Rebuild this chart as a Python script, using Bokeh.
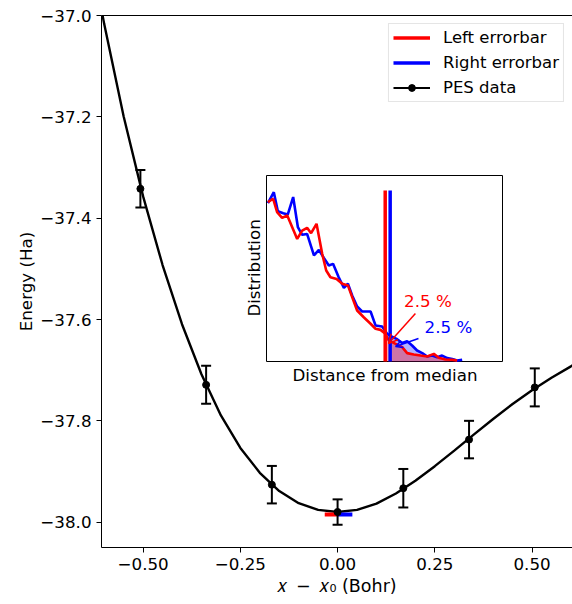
import math
from bokeh.plotting import figure
from bokeh.models import (ColumnDataSource, Range1d, FixedTicker, CustomJSTickFormatter,
                          Legend, LegendItem, Arrow, OpenHead, Label, LinearAxis)
from bokeh.embed import file_html
from bokeh.resources import INLINE

# ---------------- data ----------------
# PES data points with error bars
pes_x = [-0.507, -0.338, -0.169, 0.0, 0.169, 0.338, 0.507]
pes_e = [-37.342, -37.729, -37.926, -37.980, -37.933, -37.837, -37.734]
pes_err = [0.037, 0.0375, 0.037, 0.025, 0.038, 0.037, 0.0375]

# fitted curve
fit_x = [-0.605, -0.60, -0.55, -0.50, -0.45, -0.40, -0.35, -0.30, -0.25, -0.20, -0.15,
         -0.10, -0.05, 0.0, 0.05, 0.10, 0.15, 0.20, 0.25, 0.30, 0.35, 0.40, 0.45,
         0.50, 0.55, 0.60, 0.605]
fit_e = [-36.997, -37.017, -37.1995, -37.357, -37.4925, -37.6093, -37.708, -37.7893,
         -37.8535, -37.9025, -37.9385, -37.9625, -37.9758, -37.980, -37.9758, -37.9633,
         -37.9435, -37.9183, -37.8895, -37.8588, -37.8273, -37.7963, -37.7668, -37.7395,
         -37.7148, -37.6925, -37.690]

# minimum position and its left / right error bars
min_x = 0.0
min_e = -37.985
left_err = 0.033
right_err = 0.038

# inset: distributions of the distance from the median (normalised units)
red_u = [0.006, 0.028, 0.045, 0.066, 0.088, 0.109, 0.130, 0.151, 0.172, 0.189, 0.212,
         0.236, 0.253, 0.271, 0.297, 0.321, 0.345, 0.363, 0.384, 0.412, 0.441, 0.462,
         0.483, 0.504, 0.518, 0.532, 0.554, 0.575, 0.596, 0.624, 0.653, 0.681, 0.709,
         0.730, 0.758, 0.787, 0.808]
red_v = [0.857, 0.875, 0.803, 0.772, 0.785, 0.722, 0.659, 0.704, 0.719, 0.690, 0.740,
         0.579, 0.489, 0.453, 0.444, 0.418, 0.409, 0.346, 0.274, 0.238, 0.203, 0.176,
         0.170, 0.149, 0.113, 0.104, 0.091, 0.077, 0.045, 0.038, 0.032, 0.027, 0.041,
         0.020, 0.011, 0.009, 0.005]
blue_u = [0.006, 0.031, 0.048, 0.071, 0.090, 0.113, 0.133, 0.151, 0.172, 0.201, 0.222,
          0.243, 0.264, 0.282, 0.306, 0.328, 0.345, 0.363, 0.384, 0.405, 0.441, 0.462,
          0.490, 0.511, 0.532, 0.551, 0.575, 0.596, 0.617, 0.638, 0.660, 0.681, 0.702,
          0.723, 0.744, 0.766, 0.787, 0.808, 0.829]
blue_v = [0.851, 0.910, 0.808, 0.797, 0.790, 0.884, 0.722, 0.681, 0.686, 0.570, 0.600,
          0.557, 0.516, 0.525, 0.453, 0.396, 0.418, 0.355, 0.296, 0.269, 0.269, 0.194,
          0.188, 0.149, 0.134, 0.122, 0.099, 0.109, 0.086, 0.059, 0.045, 0.027, 0.032,
          0.023, 0.032, 0.018, 0.013, 0.005, 0.009]
red_cut = 0.503     # 2.5 % quantile, left errorbar
blue_cut = 0.524    # 2.5 % quantile, right errorbar
cut_height = 0.919
pct_label = "2.5 %"

x_ticks = [-0.5, -0.25, 0.0, 0.25, 0.5]
y_ticks = [-38.0, -37.8, -37.6, -37.4, -37.2, -37.0]

# ---------------- layout constants ----------------
FONT = "DejaVu Sans"
W, H = 572, 604
BL, BR, BT = 101, 0, 15
FW, FH = W - BL - BR, 532
BB = H - BT - FH
XR = (-0.607, 0.604)
YR = (-38.050, -37.0)

p = figure(width=W, height=H, output_backend="svg", toolbar_location=None,
           x_range=Range1d(*XR), y_range=Range1d(*YR),
           min_border_left=BL, min_border_right=BR, min_border_top=BT, min_border_bottom=BB)
p.outline_line_color = None
p.xgrid.visible = False
p.ygrid.visible = False
p.background_fill_color = "white"
p.border_fill_color = "white"

xax = p.below[0]
yax = p.left[0]

# inset mapped into the frame through extra ranges (pixel box of the inset in page coords)
ins_l, ins_r, ins_t, ins_b = 266, 502, 175, 361
fx0, fy0 = BL, BT
fl = (ins_l - fx0) / FW
fr = (ins_r - fx0) / FW
span = 1.0 / (fr - fl)
ix0 = -fl * span
fb = (fy0 + FH - ins_b) / FH
ft = (fy0 + FH - ins_t) / FH
vspan = 1.0 / (ft - fb)
iy0 = -fb * vspan
p.extra_x_ranges = {"ix": Range1d(ix0, ix0 + span)}
p.extra_y_ranges = {"iy": Range1d(iy0, iy0 + vspan)}

# axes
top_axis = LinearAxis(ticker=FixedTicker(ticks=[]), axis_line_color="black", axis_line_width=1,
                      major_tick_out=0, major_tick_in=0, minor_tick_out=0, minor_tick_in=0,
                      major_label_standoff=0, major_label_text_font_size="0px")
p.add_layout(top_axis, "above")

xax.ticker = FixedTicker(ticks=x_ticks)
yax.ticker = FixedTicker(ticks=y_ticks)
xax.formatter = CustomJSTickFormatter(
    code="return (tick < -1e-9 ? '\\u2212' : '') + Math.abs(tick).toFixed(2);")
yax.formatter = CustomJSTickFormatter(
    code="return (tick < -1e-9 ? '\\u2212' : '') + Math.abs(tick).toFixed(1);")
for ax in (xax, yax):
    ax.axis_line_color = "black"
    ax.axis_line_width = 1
    ax.major_tick_line_color = "black"
    ax.major_tick_line_width = 1
    ax.major_tick_out = 5
    ax.major_tick_in = 0
    ax.minor_tick_out = 0
    ax.minor_tick_in = 0
    ax.major_label_standoff = 5
    ax.major_label_text_font = FONT
    ax.major_label_text_font_size = "16.7px"
    ax.major_label_text_color = "black"
    ax.axis_label_text_font = FONT
    ax.axis_label_text_font_size = "16.7px"
    ax.axis_label_text_font_style = "normal"
    ax.axis_label_text_color = "black"
xax.axis_label = "\U0001D465\u2002\u2212\u2002\U0001D465\u2080 (Bohr)"
xax.axis_label_text_font_size = "17.5px"
yax.axis_label = "Energy (Ha)"
xax.axis_label_standoff = 3
yax.axis_label_standoff = 1

# main curve
p.line(fit_x, fit_e, line_color="black", line_width=2.4)

# minimum left/right errorbars
p.line([min_x - left_err, min_x], [min_e, min_e], line_color="red", line_width=4)
p.line([min_x, min_x + right_err], [min_e, min_e], line_color="blue", line_width=4)

# PES data with error bars
src = ColumnDataSource(dict(x=pes_x, y=pes_e,
                            lo=[e - d for e, d in zip(pes_e, pes_err)],
                            hi=[e + d for e, d in zip(pes_e, pes_err)]))
err_r = p.segment(x0="x", y0="lo", x1="x", y1="hi", source=src, line_color="black", line_width=2)
p.scatter(x="x", y="lo", source=src, marker="dash", size=10, line_color="black", line_width=2)
p.scatter(x="x", y="hi", source=src, marker="dash", size=10, line_color="black", line_width=2)
pts_r = p.scatter(x="x", y="y", source=src, marker="circle", size=7,
                  fill_color="black", line_color="black")

# ---------------- inset ----------------
kw = dict(x_range_name="ix", y_range_name="iy")
p.quad(left=[0], right=[1], bottom=[0], top=[1], fill_color="white",
       line_color="black", line_width=1, **kw)

bu = [u for u in blue_u if u >= blue_cut]
bv = [v for u, v in zip(blue_u, blue_v) if u >= blue_cut]
ru = [u for u in red_u if u >= red_cut]
rv = [v for u, v in zip(red_u, red_v) if u >= red_cut]
p.varea(x=bu, y1=[0] * len(bu), y2=bv, fill_color="blue", fill_alpha=0.3, **kw)
p.varea(x=ru, y1=[0] * len(ru), y2=rv, fill_color="red", fill_alpha=0.35, **kw)

p.line(blue_u, blue_v, line_color="blue", line_width=2.6, **kw)
p.line(red_u, red_v, line_color="red", line_width=2.6, **kw)

red_vl = p.line([red_cut, red_cut], [0, cut_height], line_color="red", line_width=3.5, **kw)
blue_vl = p.line([blue_cut, blue_cut], [0, cut_height], line_color="blue", line_width=3.5, **kw)

p.add_layout(Arrow(end=OpenHead(size=9, line_color="red", line_width=1.5),
                   x_start=0.631, y_start=0.258, x_end=0.517, y_end=0.097,
                   line_color="red", line_width=1.5, **kw))
p.add_layout(Arrow(end=OpenHead(size=7, line_color="blue", line_width=1.5),
                   x_start=0.644, y_start=0.124, x_end=0.547, y_end=0.081,
                   line_color="blue", line_width=1.5, **kw))

lab_kw = dict(text_font=FONT, text_font_size="16.7px", text_align="center",
              text_baseline="middle", **kw)
p.add_layout(Label(x=0.684, y=0.325, text=pct_label, text_color="red", **lab_kw))
p.add_layout(Label(x=0.771, y=0.185, text=pct_label, text_color="blue", **lab_kw))
p.add_layout(Label(x=-0.055, y=0.503, text="Distribution", angle=math.pi / 2,
                   text_color="black", **lab_kw))
p.add_layout(Label(x=0.502, y=-0.070, text="Distance from median", text_color="black", **lab_kw))

# ---------------- legend ----------------
legend = Legend(items=[
    LegendItem(label="Left errorbar", renderers=[red_vl]),
    LegendItem(label="Right errorbar", renderers=[blue_vl]),
    LegendItem(label="PES data", renderers=[err_r, pts_r]),
], location="top_right")
legend.label_text_font = FONT
legend.label_text_font_size = "16.5px"
legend.label_text_color = "black"
legend.glyph_width = 37
legend.glyph_height = 17
legend.label_height = 17
legend.spacing = 6
legend.padding = 4
legend.margin = 8
legend.label_standoff = 13
legend.border_line_color = "#cccccc"
legend.border_line_width = 1
legend.background_fill_alpha = 0.8
p.add_layout(legend, "center")

open("out.html", "w").write(file_html(p, INLINE))
